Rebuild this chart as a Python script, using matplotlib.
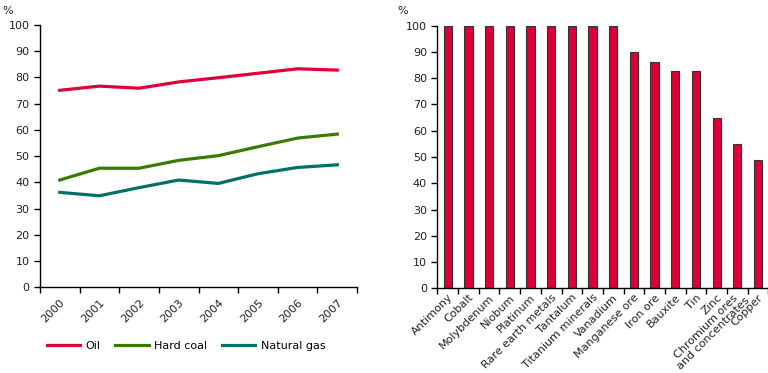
import numpy as np
import matplotlib
matplotlib.use("Agg")
import matplotlib.pyplot as plt

# ─── DATA ─────────────────────────────────────────────────────────────────────
YEARS = ["2000", "2001", "2002", "2003", "2004", "2005", "2006", "2007"]
OIL = [75.1, 76.7, 75.9, 78.3, 79.9, 81.6, 83.3, 82.8]
HARD_COAL = [40.9, 45.4, 45.4, 48.4, 50.2, 53.6, 56.9, 58.4]
NATURAL_GAS = [36.2, 34.9, 38.0, 40.9, 39.6, 43.3, 45.7, 46.7]

METALS = ["Antimony", "Cobalt", "Molybdenum", "Niobum", "Platinum",
          "Rare earth metals", "Tantalum", "Titanium minerals", "Vanadium",
          "Manganese ore", "Iron ore", "Bauxite", "Tin", "Zinc",
          "Chromium ores\nand concentrates", "Copper"]
METAL_SHARE = [100, 100, 100, 100, 100, 100, 100, 100, 100,
               90.1, 86.2, 82.7, 82.7, 64.9, 55.1, 48.9]

col_oil = "#e2003a"
col_coal = "#3a7a00"
col_gas = "#00706a"
col_bar = "#dc0036"

plt.rcParams["font.family"] = ["DejaVu Sans"]
FS = 8


def style_axis(ax, n):
    for side in ("top", "right"):
        ax.spines[side].set_visible(False)
    for side in ("left", "bottom"):
        ax.spines[side].set_linewidth(1.0)
        ax.spines[side].set_color("black")
    ax.set_ylim(0, 100)
    ax.set_yticks(np.arange(0, 101, 10))
    ax.set_xlim(-0.5, n - 0.5)
    ax.set_xticks(np.arange(n))
    ax.set_xticks(np.arange(n + 1) - 0.5, minor=True)
    ax.tick_params(axis="x", which="major", length=0, pad=3, labelsize=FS)
    ax.tick_params(axis="x", which="minor", length=4, width=1, direction="out")
    ax.tick_params(axis="y", length=4, width=1, direction="out", labelsize=FS,
                   colors="black", labelcolor="#222222")


fig = plt.figure(figsize=(7.68, 3.73), dpi=100, facecolor="white")

# Left panel: lines by fuel
ax_l = fig.add_axes([0.052, 0.2297, 0.413, 0.7033])
x = np.arange(len(YEARS))
ax_l.plot(x, OIL, color=col_oil, lw=2.3, label="Oil")
ax_l.plot(x, HARD_COAL, color=col_coal, lw=2.3, label="Hard coal")
ax_l.plot(x, NATURAL_GAS, color=col_gas, lw=2.3, label="Natural gas")
style_axis(ax_l, len(YEARS))
ax_l.tick_params(axis="x", which="major", pad=7)
ax_l.set_xticklabels(YEARS, rotation=45, ha="right", rotation_mode="anchor",
                     color="#222222")
fig.text(0.003, 0.984, "%", fontsize=FS, va="top", ha="left", color="#222222")

fig.legend(loc="center left", bbox_to_anchor=(0.048, 0.072), ncol=3,
           frameon=False, fontsize=FS, handlelength=3.0, handletextpad=0.5,
           columnspacing=1.3)

# Right panel: bars by metal
ax_r = fig.add_axes([0.5695, 0.2271, 0.431, 0.7040])
xm = np.arange(len(METALS))
ax_r.bar(xm, METAL_SHARE, width=0.4, color=col_bar, edgecolor="#333333",
         linewidth=0.8)
style_axis(ax_r, len(METALS))
labels = ax_r.set_xticklabels(METALS, rotation=45, ha="right",
                              rotation_mode="anchor", color="#222222",
                              linespacing=0.95)
# two-line label: lift it a touch so the second line stays inside
labels[14].set_y(0.014)
labels[14].set_multialignment("center")

fig.text(0.518, 0.984, "%", fontsize=FS, va="top", ha="left", color="#222222")

plt.savefig("out.png", dpi=100, facecolor="white")
plt.close()
